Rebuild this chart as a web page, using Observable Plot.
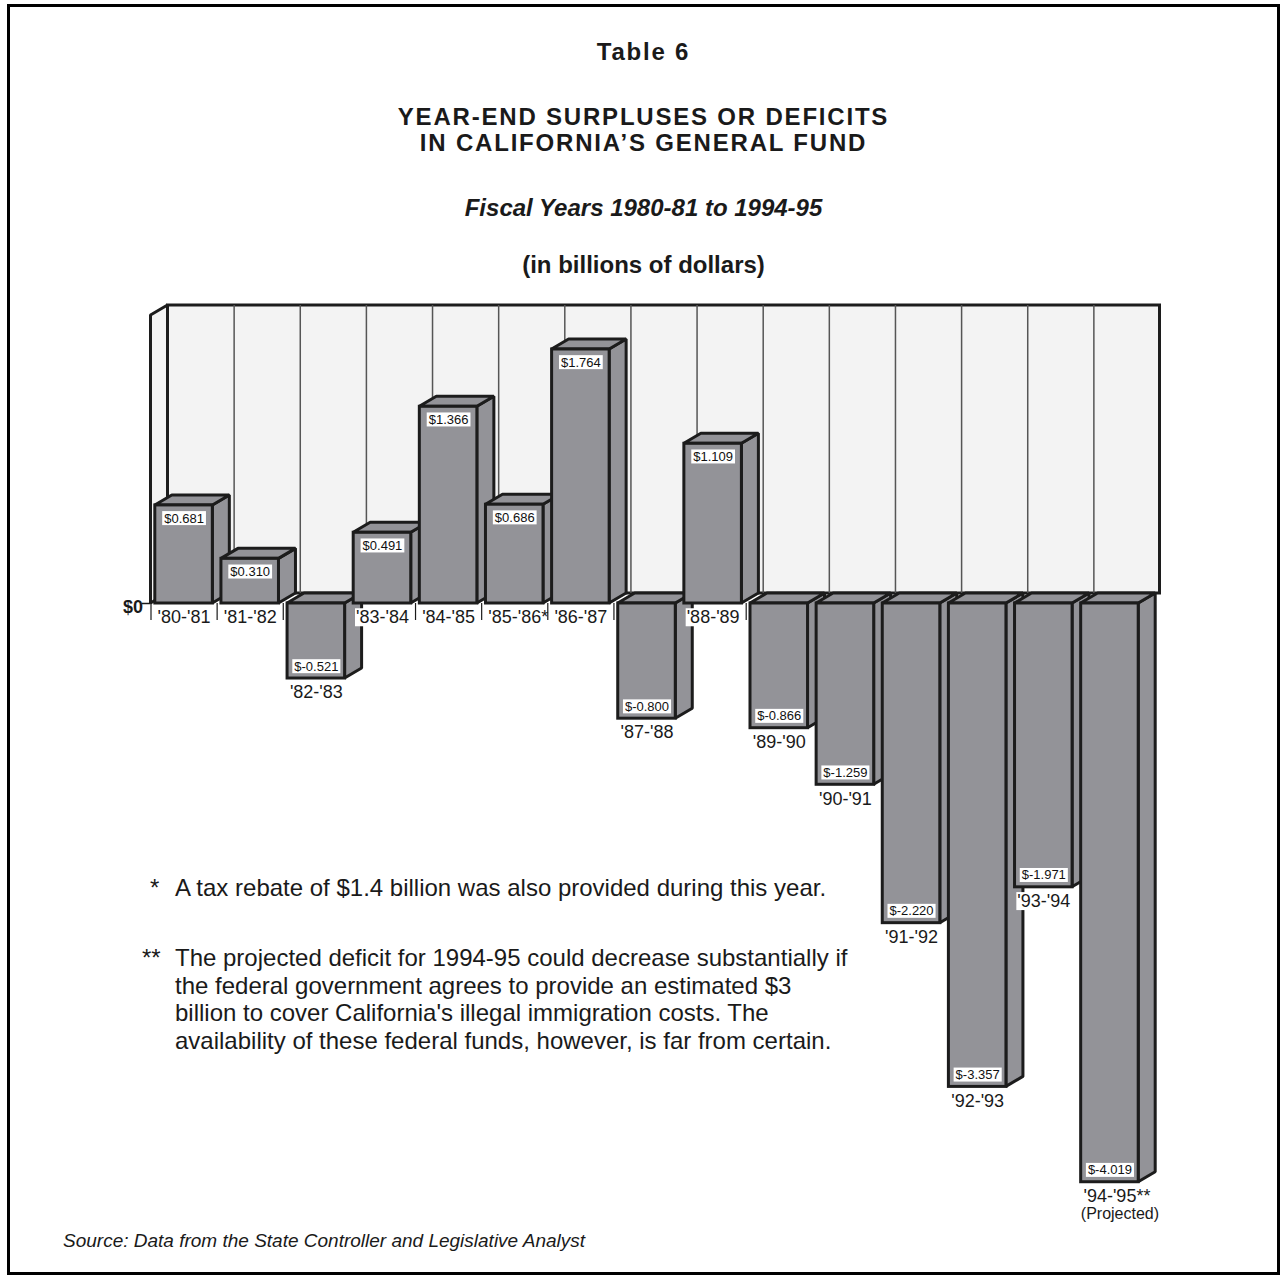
<!DOCTYPE html>
<html>
<head>
<meta charset="utf-8">
<script src="https://cdn.jsdelivr.net/npm/d3@7"></script>
<script src="https://cdn.jsdelivr.net/npm/@observablehq/plot@0.6"></script>
<style>
  html, body { margin: 0; padding: 0; background: #fff; }
  body { font-family: "Liberation Sans", Arial, Helvetica, sans-serif; color: #1a1a1a; }
  #page { position: relative; width: 1280px; height: 1277px; overflow: hidden; }
  #chart { position: absolute; left: 0; top: 0; }
  #frame { position: absolute; left: 7px; top: 4px; width: 1273px; height: 1271px; border: 3px solid #000; box-sizing: border-box; pointer-events: none; }
  .center { position: absolute; left: 7px; width: 1273px; text-align: center; font-weight: bold; white-space: nowrap; }
  .title { font-size: 24px; letter-spacing: 1.8px; }
  .note { position: absolute; font-size: 24px; line-height: 27.5px; white-space: nowrap; }
  .source { position: absolute; left: 63px; top: 1229px; font-size: 19px; line-height: 24px; font-style: italic; white-space: nowrap; }
</style>
</head>
<body>
<div id="page">
  <div id="chart"></div>
  <div id="frame"></div>
  <div class="center title" style="top:38px;line-height:28px;">Table 6</div>
  <div class="center title" style="top:104px;line-height:26px;">YEAR-END SURPLUSES OR DEFICITS<br>IN CALIFORNIA’S GENERAL FUND</div>
  <div class="center" style="top:195px;font-size:24px;line-height:26px;font-style:italic;">Fiscal Years 1980-81 to 1994-95</div>
  <div class="center" style="top:252px;font-size:24px;line-height:26px;">(in billions of dollars)</div>
  <div class="note" style="left:150px;top:874px;">*</div>
  <div class="note" style="left:175px;top:874px;">A tax rebate of $1.4 billion was also provided during this year.</div>
  <div class="note" style="left:142px;top:944px;">**</div>
  <div class="note" style="left:175px;top:944px;">The projected deficit for 1994-95 could decrease substantially if<br>the federal government agrees to provide an estimated $3<br>billion to cover California's illegal immigration costs. The<br>availability of these federal funds, however, is far from certain.</div>
  <div class="source">Source: Data from the State Controller and Legislative Analyst</div>
</div>
<script>
// Fiscal years and year-end General Fund balance (billions of dollars)
const categories = ["'80-'81", "'81-'82", "'82-'83", "'83-'84", "'84-'85", "'85-'86", "'86-'87", "'87-'88",
                    "'88-'89", "'89-'90", "'90-'91", "'91-'92", "'92-'93", "'93-'94", "'94-'95"];
const footnoteMarks = ["", "", "", "", "", "*", "", "", "", "", "", "", "", "", "**"];
const subLabels = ["", "", "", "", "", "", "", "", "", "", "", "", "", "", "(Projected)"];
const balances = [0.681, 0.310, -0.521, 0.491, 1.366, 0.686, 1.764, -0.800,
                  1.109, -0.866, -1.259, -2.220, -3.357, -1.971, -4.019];
const zeroLabel = ["$0"];
const wallHeight = 2.0; // height of the back wall, in billions

// Layout
const W = 1280, H = 1277;
const ML = 150.5, MR = 137.5;
const Y_DOMAIN = [-4.6, 2.2];
const PX_PER_UNIT = 144, ZERO_PX = 603;
const MT = ZERO_PX - Y_DOMAIN[1] * PX_PER_UNIT;
const MB = H - (ZERO_PX - Y_DOMAIN[0] * PX_PER_UNIT);
const n = categories.length;
const pxPerBand = (W - ML - MR) / n;
// oblique depth of the 3-D boxes, converted from pixels to data units
const DEPTH_X = 17 / pxPerBand, DEPTH_Y = 10 / PX_PER_UNIT;
const HALF = 0.435;          // half bar width, in bands
const TICK_Y = 17 / PX_PER_UNIT;
const TICK_X = 9 / pxPerBand;

const BAR = "#939398", EDGE = "#1c1c1c", WALL = "#f3f3f3";

const bars = categories.map((c, i) => ({
  i, c, v: balances[i],
  lo: Math.min(balances[i], 0), hi: Math.max(balances[i], 0),
  mark: footnoteMarks[i], sub: subLabels[i]
}));

// right-hand faces: parallelograms from the front edge to the back edge
const sides = bars.flatMap(d => [
  {i: d.i, x: d.i + HALF, y1: d.lo, y2: d.hi},
  {i: d.i, x: d.i + HALF + DEPTH_X, y1: d.lo + DEPTH_Y, y2: d.hi + DEPTH_Y}
]);
// top faces
const tops = bars.flatMap(d => [
  {i: d.i, y: d.hi, x1: d.i - HALF, x2: d.i + HALF},
  {i: d.i, y: d.hi + DEPTH_Y, x1: d.i - HALF + DEPTH_X, x2: d.i + HALF + DEPTH_X}
]);
const bounds = d3.range(n + 1).map(k => k - 0.5);
const leftWall = [
  {x: -0.5, y1: 0, y2: wallHeight},
  {x: -0.5 + DEPTH_X, y1: DEPTH_Y, y2: wallHeight + DEPTH_Y}
];
const fmt = v => `$${v.toFixed(3)}`;

const plot = Plot.plot({
  width: W, height: H,
  marginLeft: ML, marginRight: MR, marginTop: MT, marginBottom: MB,
  x: {type: "linear", domain: [-0.5, n - 0.5], axis: null},
  y: {type: "linear", domain: Y_DOMAIN, axis: null},
  style: {fontFamily: '"Liberation Sans", Arial, Helvetica, sans-serif', fontSize: "13px", background: "transparent", overflow: "visible", color: "#1a1a1a"},
  marks: [
    // back wall
    Plot.rect([wallHeight], {x1: () => -0.5 + DEPTH_X, x2: () => n - 0.5 + DEPTH_X, y1: () => DEPTH_Y, y2: h => h + DEPTH_Y,
      fill: WALL, stroke: EDGE, strokeWidth: 3}),
    Plot.ruleX(bounds.slice(1, -1), {x: b => b + DEPTH_X, y1: DEPTH_Y, y2: wallHeight + DEPTH_Y, stroke: "#555", strokeWidth: 1.5}),
    // left side wall
    Plot.area(leftWall, {x1: "x", y1: "y1", y2: "y2", fill: WALL, stroke: EDGE, strokeWidth: 3, strokeLinejoin: "miter"}),
    // category ticks along the zero line
    Plot.ruleX(bounds, {x: b => b, y1: 0, y2: -TICK_Y, stroke: "#1a1a1a", strokeWidth: 1.2}),
    Plot.ruleY([0], {x1: -0.5 - TICK_X, x2: -0.5, stroke: "#1a1a1a", strokeWidth: 1.5}),
    Plot.text(zeroLabel, {x: () => -0.5, y: () => 0, text: d => d, dx: -8, dy: 4, textAnchor: "end", fontWeight: "bold", fontSize: 18, fill: "#1a1a1a"}),
    // 3-D boxes
    Plot.area(sides, {x1: "x", y1: "y1", y2: "y2", z: "i", fill: BAR, stroke: EDGE, strokeWidth: 3, strokeLinejoin: "miter"}),
    Plot.area(tops, {x1: "x1", x2: "x2", y1: "y", z: "i", fill: BAR, stroke: EDGE, strokeWidth: 3, strokeLinejoin: "miter"}),
    Plot.rect(bars, {x1: d => d.i - HALF, x2: d => d.i + HALF, y1: "lo", y2: "hi", fill: BAR, stroke: EDGE, strokeWidth: 3}),
    // fiscal-year labels
    Plot.text(bars, {x: "i", y: "lo", text: "c", dy: 14, fontSize: 18, fill: "#1a1a1a", ariaDescription: "year labels"}),
    Plot.text(bars.filter(d => d.mark), {x: "i", y: "lo", text: "mark", dx: 26.5, dy: 14, textAnchor: "start", fontSize: 18, fill: "#1a1a1a"}),
    Plot.text(bars.filter(d => d.sub), {x: "i", y: "lo", text: "sub", dx: 10, dy: 32, fontSize: 16, fill: "#1a1a1a"}),
    // value labels
    Plot.text(bars.filter(d => d.v >= 0), {x: "i", y: "hi", text: d => fmt(d.v), dy: 13, fontSize: 13, fill: "#111", ariaDescription: "value labels"}),
    Plot.text(bars.filter(d => d.v < 0), {x: "i", y: "lo", text: d => fmt(d.v), dy: -12, fontSize: 13, fill: "#111", ariaDescription: "value labels"})
  ]
});

document.getElementById("chart").append(plot);

// white boxes behind the labels
function addBoxes(desc, padX, padY) {
  plot.querySelectorAll(`g[aria-description="${desc}"] text`).forEach(t => {
    const b = t.getBBox();
    const r = document.createElementNS("http://www.w3.org/2000/svg", "rect");
    r.setAttribute("x", b.x - padX);
    r.setAttribute("y", b.y - padY);
    r.setAttribute("width", b.width + 2 * padX);
    r.setAttribute("height", b.height + 2 * padY);
    r.setAttribute("fill", "#fff");
    r.setAttribute("stroke", "none");
    const tr = t.getAttribute("transform");
    if (tr) r.setAttribute("transform", tr);
    t.parentNode.insertBefore(r, t);
  });
}
addBoxes("value labels", 2, -0.5);
addBoxes("year labels", 1, -1);
</script>
</body>
</html>
